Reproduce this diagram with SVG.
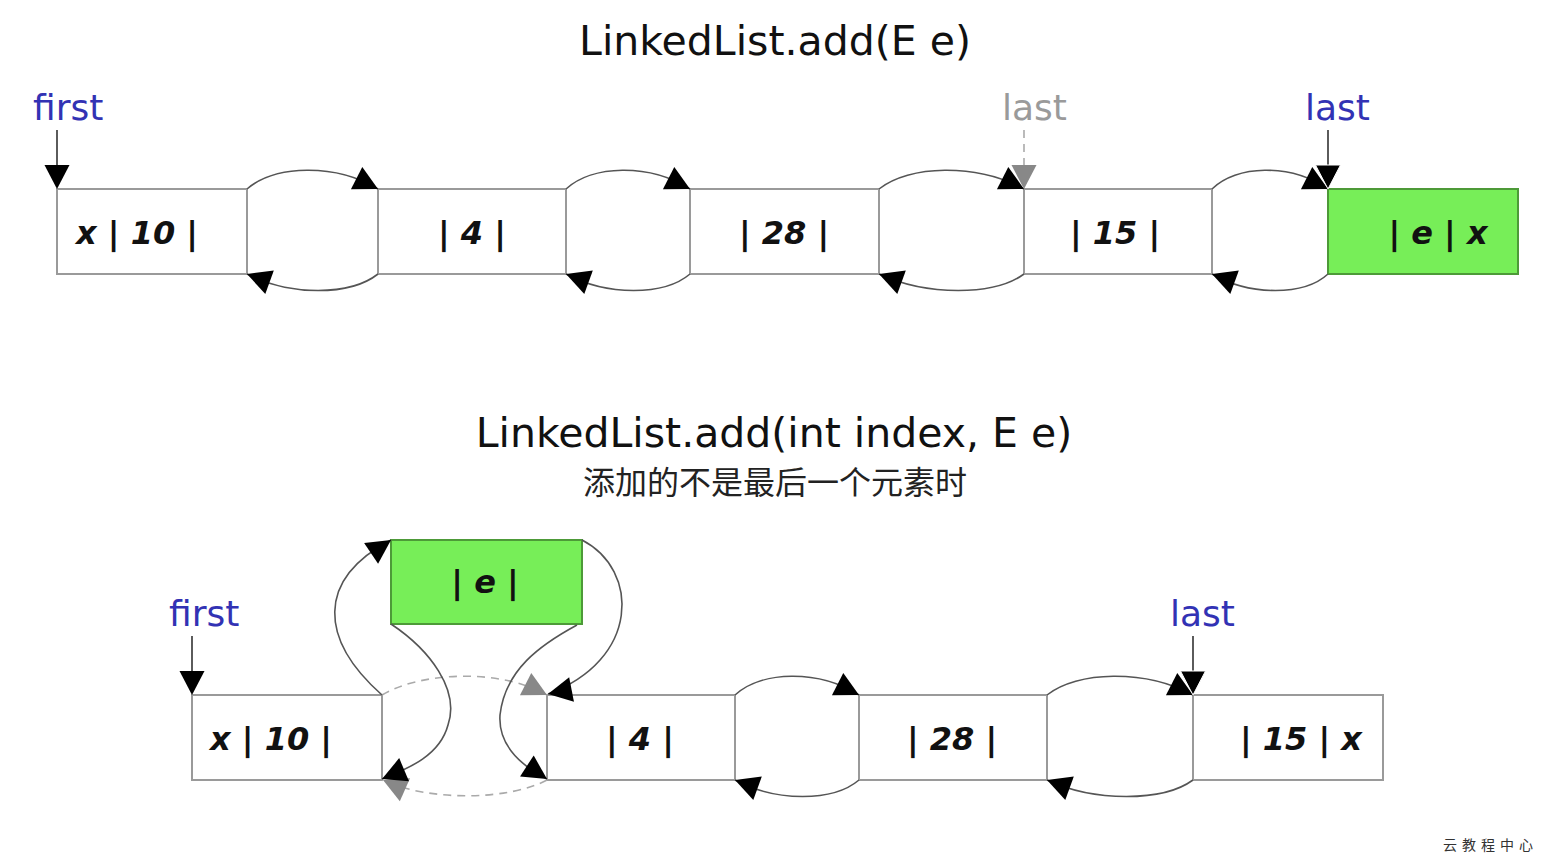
<svg xmlns="http://www.w3.org/2000/svg" xmlns:xlink="http://www.w3.org/1999/xlink" width="1556" height="866" viewBox="0 0 1556 866">
<style>
.box{fill:#fff;stroke:#9a9a9a;stroke-width:2}
.gbox{fill:#77ee58;stroke:#4d9a38;stroke-width:2}
.lbl{font-family:"DejaVu Sans",sans-serif;font-weight:bold;font-style:italic;font-size:32px;fill:#111;text-anchor:middle}
.ptr{font-family:"DejaVu Sans",sans-serif;font-size:36px;fill:#3232b4}
.ptrg{fill:#9a9a9a}
.title{font-family:"DejaVu Sans",sans-serif;font-size:41px;fill:#111;text-anchor:middle}
.sub{font-family:"DejaVu Sans","Noto Sans CJK SC",sans-serif;font-size:32px;fill:#222;text-anchor:middle}
.link{fill:none;stroke:#555;stroke-width:1.6}
.dash{fill:none;stroke:#aaa;stroke-width:1.6;stroke-dasharray:8 6}
.pline{fill:none;stroke:#333;stroke-width:1.6}
.ah{fill:#000}
.ahg{fill:#888}
.wm{font-family:"Noto Sans CJK SC",sans-serif;font-size:14px;fill:#333;letter-spacing:5px}
</style>
<defs>
<path id="ah" d="M0,0 L-24,-12.5 L-24,12.5 Z"/>
</defs>

<text class="title" x="775" y="55">LinkedList.add(E e)</text>
<text class="title" x="774" y="447">LinkedList.add(int index, E e)</text>
<text class="sub" x="775" y="494">添加的不是最后一个元素时</text>

<g id="top-nodes">
<g id="t1"><rect class="box" x="57" y="189" width="190" height="85"/><text class="lbl" x="137" y="244">x | 10 |</text></g>
<g id="t2"><rect class="box" x="378" y="189" width="188" height="85"/><text class="lbl" x="472" y="244">| 4 |</text></g>
<g id="t3"><rect class="box" x="690" y="189" width="189" height="85"/><text class="lbl" x="784" y="244">| 28 |</text></g>
<g id="t4"><rect class="box" x="1024" y="189" width="188" height="85"/><text class="lbl" x="1115" y="244">| 15 |</text></g>
<g id="t5"><rect class="gbox" x="1328" y="189" width="190" height="85"/><text class="lbl" x="1438" y="244">| e | x</text></g>
</g>

<g id="bottom-nodes">
<g id="b1"><rect class="box" x="192" y="695" width="190" height="85"/><text class="lbl" x="271" y="750">x | 10 |</text></g>
<g id="b2"><rect class="box" x="547" y="695" width="188" height="85"/><text class="lbl" x="640" y="750">| 4 |</text></g>
<g id="b3"><rect class="box" x="859" y="695" width="188" height="85"/><text class="lbl" x="952" y="750">| 28 |</text></g>
<g id="b4"><rect class="box" x="1193" y="695" width="190" height="85"/><text class="lbl" x="1301" y="750">| 15 | x</text></g>
<g id="be"><rect class="gbox" x="391" y="540" width="191" height="84"/><text class="lbl" x="485" y="593">| e |</text></g>
</g>

<g id="pointers">
<text class="ptr" x="33" y="120">first</text>
<line class="pline" x1="57" y1="130" x2="57" y2="172"/>
<use href="#ah" class="ah" transform="translate(57,189) rotate(90)"/>
<text class="ptr ptrg" x="1002" y="120">last</text>
<line class="dash" x1="1024" y1="130" x2="1024" y2="170"/>
<text class="ptr" x="1305" y="120">last</text>
<line class="pline" x1="1328" y1="130" x2="1328" y2="172"/>
<text class="ptr" x="169" y="626">first</text>
<line class="pline" x1="192" y1="636" x2="192" y2="678"/>
<use href="#ah" class="ah" transform="translate(192,695) rotate(90)"/>
<text class="ptr" x="1170" y="626">last</text>
<line class="pline" x1="1193" y1="636" x2="1193" y2="678"/>
</g>

<g id="connectors">
<path class="link" d="M247,189 C275,165 335,163 378,189"/>
<path class="link" d="M378,274 C350,296 290,296 247,274"/>
<use href="#ah" class="ah" transform="translate(378,189) rotate(27)"/>
<use href="#ah" class="ah" transform="translate(247,274) rotate(200)"/>

<path class="link" d="M566,189 C592,165 649,163 690,189"/>
<path class="link" d="M690,274 C664,296 607,296 566,274"/>
<use href="#ah" class="ah" transform="translate(690,189) rotate(27)"/>
<use href="#ah" class="ah" transform="translate(566,274) rotate(200)"/>

<path class="link" d="M879,189 C909,165 976,163 1024,189"/>
<path class="link" d="M1024,274 C994,296 927,296 879,274"/>
<use href="#ah" class="ah" transform="translate(1024,189) rotate(27)"/>
<use href="#ah" class="ah" transform="translate(879,274) rotate(200)"/>
<use href="#ah" class="ahg" transform="translate(1024,189) rotate(90)"/>

<path class="link" d="M1212,189 C1236,165 1290,163 1328,189"/>
<path class="link" d="M1328,274 C1304,296 1250,296 1212,274"/>
<use href="#ah" class="ah" transform="translate(1328,189) rotate(27)"/>
<use href="#ah" class="ah" transform="translate(1212,274) rotate(200)"/>
<use href="#ah" class="ah" stroke="#fff" stroke-width="1" transform="translate(1328,189) rotate(90)"/>

<path class="dash" d="M382,695 C420,672 500,668 547,695"/>
<path class="dash" d="M547,780 C510,800 430,802 382,780"/>
<use href="#ah" class="ahg" transform="translate(547,695) rotate(27)"/>
<use href="#ah" class="ahg" transform="translate(383,780) rotate(204)"/>

<path class="link" d="M382,695 C320,640 315,580 391,540"/>
<use href="#ah" class="ah" transform="translate(391,540) rotate(-34)"/>
<path class="link" d="M391,624 C430,650 460,690 448,725 C440,755 410,768 382,779"/>
<use href="#ah" class="ah" transform="translate(382,779) rotate(157)"/>
<path class="link" d="M582,540 C640,570 640,660 548,694"/>
<use href="#ah" class="ah" transform="translate(548,694) rotate(169)"/>
<path class="link" d="M577,625 C540,645 505,670 500,715 C498,745 520,765 547,779"/>
<use href="#ah" class="ah" transform="translate(547,779) rotate(33)"/>

<path class="link" d="M735,695 C761,671 818,669 859,695"/>
<path class="link" d="M859,780 C833,802 776,802 735,780"/>
<use href="#ah" class="ah" transform="translate(859,695) rotate(27)"/>
<use href="#ah" class="ah" transform="translate(735,780) rotate(200)"/>

<path class="link" d="M1047,695 C1077,671 1145,669 1193,695"/>
<path class="link" d="M1193,780 C1163,802 1094,802 1047,780"/>
<use href="#ah" class="ah" transform="translate(1193,695) rotate(27)"/>
<use href="#ah" class="ah" transform="translate(1047,780) rotate(200)"/>
<use href="#ah" class="ah" stroke="#fff" stroke-width="1" transform="translate(1193,695) rotate(90)"/>
</g>

<text class="wm" x="1443" y="850">云教程中心</text>
</svg>
